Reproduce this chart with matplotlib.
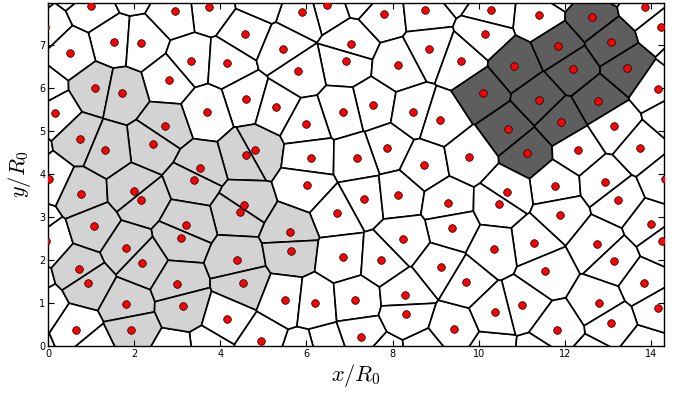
import numpy as np
import matplotlib
matplotlib.use("Agg")
import matplotlib.pyplot as plt
import matplotlib.tri as mtri
from matplotlib.patches import Polygon
from collections import defaultdict

# periodic box
LX, LY = 14.30, 8.00

# cell centres (x, y) and cell type: 0 white, 1 light grey, 2 dark grey
x_pts = [1.008, 3.731, 2.949, 4.583, 1.542, 2.159, 0.504, 3.329, 4.165, 2.809,
         1.101, 1.711, 4.606, 3.692, 0.156, 2.726, 0.736, 2.447, 1.333, 4.806,
         4.597, 3.522, 3.390, 0.023, 6.471, 5.907, 7.794, 8.746, 7.044, 5.465,
         8.846, 6.928, 9.594, 8.126, 5.798, 5.287, 7.539, 6.849, 8.484, 9.101,
         6.000, 7.880, 6.099, 7.167, 8.739, 10.279, 11.393, 12.617, 13.854, 14.233,
         10.140, 13.065, 11.850, 10.829, 13.437, 12.182, 14.155, 10.093, 11.393, 12.779,
         11.904, 13.142, 10.673, 13.745, 11.121, 12.292, 9.775, 0.759, 1.990, 2.159,
         4.560, 4.458, 1.061, 3.213, 3.088, 1.820, 2.192, 4.398, 0.720, 0.929,
         3.004, 4.521, 1.820, 3.134, 4.165, 0.643, 1.936, 6.013, 7.330, 8.136,
         9.287, 6.719, 5.612, 9.389, 8.252, 5.635, 6.842, 7.741, 9.118, 5.496,
         6.192, 7.137, 8.298, 8.321, 9.427, 7.260, 4.939, 11.772, 12.919, 10.650,
         10.471, 13.234, 11.897, 13.987, 14.265, 11.277, 12.756, 10.355, 13.128, 11.549,
         9.714, 13.831, 11.015, 12.786, 14.156, 10.372, 13.072, 11.818]
y_pts = [7.930, 7.891, 7.798, 7.272, 7.093, 7.047, 6.830, 6.644, 6.588, 6.202,
         6.007, 5.884, 5.751, 5.458, 5.426, 5.123, 4.821, 4.705, 4.574, 4.558,
         4.442, 4.140, 3.872, 3.884, 7.937, 7.784, 7.728, 7.830, 7.030, 6.907,
         6.914, 6.635, 6.644, 6.535, 6.402, 5.558, 5.612, 5.449, 5.449, 5.256,
         5.170, 4.621, 4.388, 4.372, 4.209, 7.821, 7.705, 7.658, 7.907, 7.426,
         7.263, 7.077, 6.977, 6.528, 6.481, 6.458, 5.984, 5.900, 5.737, 5.714,
         5.216, 5.116, 5.053, 4.605, 4.505, 4.558, 4.395, 3.542, 3.612, 3.402,
         3.286, 3.133, 2.784, 2.814, 2.519, 2.286, 1.930, 1.993, 1.784, 1.465,
         1.435, 1.458, 0.977, 0.930, 0.628, 0.372, 0.379, 3.744, 3.426, 3.512,
         3.333, 3.093, 2.651, 2.760, 2.495, 2.209, 2.063, 2.000, 1.837, 1.077,
         1.000, 1.077, 1.186, 0.737, 0.388, 0.209, 0.109, 3.737, 3.821, 3.581,
         3.309, 3.412, 3.063, 2.837, 2.449, 2.395, 2.372, 2.263, 1.977, 1.737,
         1.481, 1.465, 0.960, 1.000, 0.891, 0.798, 0.528, 0.372]
cell_type = [0, 0, 0, 0, 0, 0, 0, 0, 0, 0,
             1, 1, 0, 0, 0, 1, 1, 1, 1, 1,
             1, 1, 1, 0, 0, 0, 0, 0, 0, 0,
             0, 0, 0, 0, 0, 0, 0, 0, 0, 0,
             0, 0, 0, 0, 0, 0, 0, 2, 0, 0,
             0, 2, 2, 2, 2, 2, 0, 2, 2, 2,
             2, 0, 2, 0, 2, 0, 0, 1, 1, 1,
             1, 1, 1, 1, 1, 1, 1, 1, 1, 1,
             1, 1, 1, 1, 0, 0, 1, 0, 0, 0,
             0, 0, 1, 0, 0, 1, 0, 0, 0, 0,
             0, 0, 0, 0, 0, 0, 0, 0, 0, 0,
             0, 0, 0, 0, 0, 0, 0, 0, 0, 0,
             0, 0, 0, 0, 0, 0, 0, 0]

type_colors = ["white", "#d3d3d3", "#5e5e5e"]
x_ticks = [0, 2, 4, 6, 8, 10, 12, 14]
y_ticks = [0, 1, 2, 3, 4, 5, 6, 7]

px = np.array(x_pts)
py = np.array(y_pts)
n = len(px)

# periodic images
X, Y, IDX, PRIMARY, ROWZERO = [], [], [], [], []
for i in (-1, 0, 1):
    for j in (-1, 0, 1):
        X.append(px + i * LX)
        Y.append(py + j * LY)
        IDX.append(np.arange(n))
        PRIMARY.append(np.full(n, i == 0 and j == 0))
        ROWZERO.append(np.full(n, j == 0))
X = np.concatenate(X)
Y = np.concatenate(Y)
IDX = np.concatenate(IDX)
PRIMARY = np.concatenate(PRIMARY)
ROWZERO = np.concatenate(ROWZERO)

tri = mtri.Triangulation(X, Y)
T = tri.triangles
ax_, ay_ = X[T[:, 0]], Y[T[:, 0]]
bx_, by_ = X[T[:, 1]], Y[T[:, 1]]
cx_, cy_ = X[T[:, 2]], Y[T[:, 2]]
d = 2 * (ax_ * (by_ - cy_) + bx_ * (cy_ - ay_) + cx_ * (ay_ - by_))
ux = ((ax_**2 + ay_**2) * (by_ - cy_) + (bx_**2 + by_**2) * (cy_ - ay_)
      + (cx_**2 + cy_**2) * (ay_ - by_)) / d
uy = ((ax_**2 + ay_**2) * (cx_ - bx_) + (bx_**2 + by_**2) * (ax_ - cx_)
      + (cx_**2 + cy_**2) * (bx_ - ax_)) / d

vt = defaultdict(list)
for t, tr in enumerate(T):
    for v in tr:
        vt[v].append(t)

fig = plt.figure(figsize=(6.81, 3.94), dpi=100)
plt.rcParams["mathtext.fontset"] = "cm"
ax = fig.add_axes([48 / 681, 48 / 394, 616 / 681, 343 / 394])

margin = 1.5
for k in range(len(X)):
    if not (-margin < X[k] < LX + margin and -margin < Y[k] < LY + margin):
        continue
    ts = vt[k]
    cxs = ux[ts]
    cys = uy[ts]
    ang = np.arctan2(cys - Y[k], cxs - X[k])
    order = np.argsort(ang)
    poly = np.column_stack([cxs[order], cys[order]])
    fc = type_colors[cell_type[IDX[k]]] if PRIMARY[k] else "white"
    ax.add_patch(Polygon(poly, closed=True, facecolor=fc,
                         edgecolor="black", linewidth=1.2, zorder=1))

sel = ROWZERO & (X > -0.5) & (X < LX + 0.5)
ax.plot(X[sel], Y[sel], "o", color="red", markeredgecolor="black",
        markeredgewidth=0.5, markersize=5.5, zorder=3)

ax.set_xlim(0, LX)
ax.set_ylim(0, 7.99)
ax.set_xticks(x_ticks)
ax.set_yticks(y_ticks)
ax.tick_params(direction="in", top=True, right=True, labelsize=7, length=4,
               width=0.8, pad=2)
ax.set_xlabel(r"$x/R_0$", fontsize=16, labelpad=2)
ax.set_ylabel(r"$y/R_0$", fontsize=16, labelpad=4)
for s in ax.spines.values():
    s.set_linewidth(1.0)

fig.savefig("out.png", dpi=100)
